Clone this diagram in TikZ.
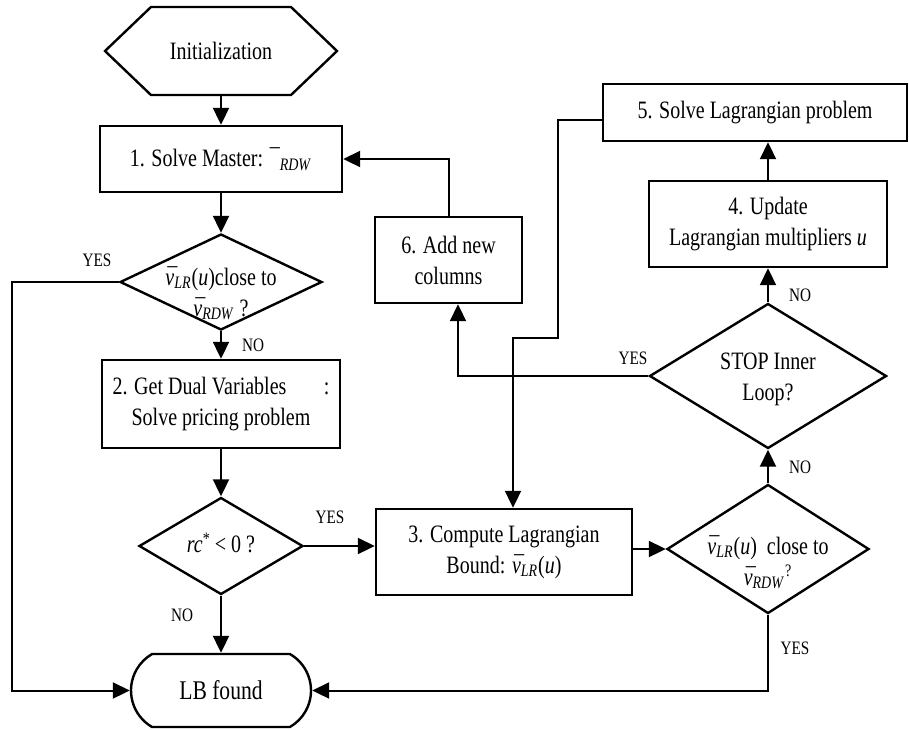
\documentclass[tikz,border=0pt]{standalone}
\usepackage{fontspec}
\setmainfont{Liberation Serif}[FakeStretch=0.8]
\usetikzlibrary{arrows.meta,shapes.geometric,shapes.misc,calc}
\newcommand{\vb}{\textit{\makebox[0pt][l]{\kern0.02em ¯}v}}
\newcommand{\mysub}[1]{\textsubscript{\textit{#1}}}
\begin{document}
\begin{tikzpicture}[x=0.5pt,y=-0.5pt,line width=1pt,
  font=\fontsize{12.5}{15.5}\selectfont,
  box/.style={draw,rectangle,inner sep=0pt,align=center,line width=1.2pt},
  dia/.style={draw,diamond,inner sep=0pt,line width=1.2pt},
  txt/.style={align=center,inner sep=0pt},
  arr/.style={-{Triangle[length=8.5pt,width=8pt]}},
  lab/.style={font=\fontsize{9.5}{11}\selectfont,inner sep=0pt}]
\useasboundingbox (0,0) rectangle (909,729);

% Initialization hexagon
\node[minimum width=115pt,minimum height=43pt,inner sep=0pt] (init) at (221,51) {Initialization};
\draw[line width=1.2pt] (init.west) -- ([xshift=23pt]init.north west) -- ([xshift=-23pt]init.north east)
  -- (init.east) -- ([xshift=-23pt]init.south east) -- ([xshift=23pt]init.south west) -- cycle;

\node[box,minimum width=121pt,minimum height=33pt] (b1) at (221,159) {1. Solve Master: ¯\mysub{RDW}};

\node[dia,minimum width=101pt,minimum height=48pt] (d1) at (221,282) {};
\node[txt] (t1) at (221,293) {\vb\mysub{LR}(\textit{u})close to\\\vb\mysub{RDW} ?};

\node[box,minimum width=119pt,minimum height=44pt] (b2) at (221,404) {2. Get Dual Variables\hspace{1.5em}:\\Solve pricing problem};

\node[dia,minimum width=82pt,minimum height=48.5pt] (d2) at (221,546) {};
\node[txt] (t2) at (221,543) {\textit{rc}\textsuperscript{*}\,< 0 ?};

\node[draw,rounded rectangle,rounded rectangle arc length=120,minimum width=90pt,minimum height=36.5pt,
  inner sep=0pt,line width=1.2pt,font=\fontsize{13.5}{16}\selectfont] (lb) at (221,690.5) {LB found};

\node[box,minimum width=128pt,minimum height=43pt] (b3) at (504,552) {3. Compute Lagrangian\\Bound: \vb\mysub{LR}(\textit{u})};

\node[dia,minimum width=101pt,minimum height=64.5pt] (d3) at (768,549) {};
\node[txt] (t3) at (768,562) {\vb\mysub{LR}(\textit{u})\ \ close to\\\vb\mysub{RDW}\textsuperscript{?}};

\node[dia,minimum width=118.5pt,minimum height=72.5pt] (stop) at (768,376) {};
\node[txt] (t4) at (768,379) {STOP Inner\\Loop?};

\node[box,minimum width=119pt,minimum height=43pt] (b4) at (768,224) {4. Update\\Lagrangian multipliers \textit{u}};
\node[box,minimum width=152pt,minimum height=28.5pt] (b5) at (755,112.5) {5. Solve Lagrangian problem};
\node[box,minimum width=73.5pt,minimum height=43pt] (b6) at (448.5,260) {6. Add new\\columns};

% connectors
\draw[arr] (init.south) -- (b1.north);
\draw[arr] (b1.south) -- (d1.north);
\draw[arr] (d1.south) -- (b2.north);
\coordinate (cl) at (12,282);
\draw[arr] (d1.west) -- (cl) |- (lb.west);
\draw[arr] (b2.south) -- (d2.north);
\draw[arr] (d2.south) -- (lb.north);
\draw[arr] (d2.east) -- (b3.west |- d2.east);
\draw[arr] (b3.east |- d3.west) -- (d3.west);
\draw[arr] (d3.south) |- (lb.east);
\draw[arr] (d3.north) -- (stop.south);
\draw[arr] (stop.north) -- (b4.south);
\draw[arr] (b4.north) -- (b4.north |- b5.south);
\coordinate (c6) at (458,376);
\draw[arr] (stop.west) -- (c6) -- (c6 |- b6.south);
\draw[arr] (b6.north) |- (b1.east);
\coordinate (c5a) at (558,120);
\coordinate (c5b) at (513,338);
\draw[arr] (b5.west |- c5a) -- (c5a) |- (c5b) -- (c5b |- b3.north);

% labels
\node[lab] (y1) at (97,260) {YES};
\node[lab] (n1) at (253,345) {NO};
\node[lab] (y2) at (330,517) {YES};
\node[lab] (n2) at (182,615) {NO};
\node[lab] (y3) at (633,358) {YES};
\node[lab] (n3) at (800,295) {NO};
\node[lab] (n4) at (800,467) {NO};
\node[lab] (y4) at (795,648) {YES};
\end{tikzpicture}
\end{document}
